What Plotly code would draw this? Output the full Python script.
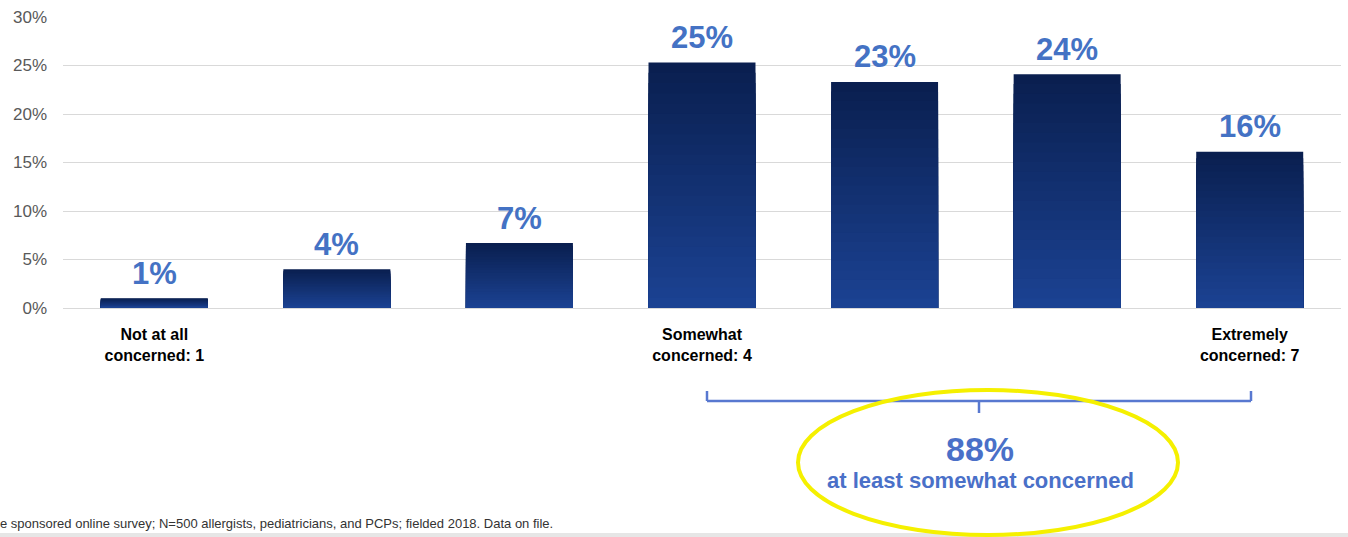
import plotly.graph_objects as go

# ---- data ----
scale_points = [1, 2, 3, 4, 5, 6, 7]
values = [1.0, 4.0, 6.7, 25.3, 23.3, 24.1, 16.1]
value_labels = ["1%", "4%", "7%", "25%", "23%", "24%", "16%"]
tick_labels = ["Not at all<br>concerned: 1", "", "", "Somewhat<br>concerned: 4", "", "", "Extremely<br>concerned: 7"]
y_ticks = [0, 5, 10, 15, 20, 25, 30]
summary_value = "88%"
summary_text = "at least somewhat concerned"
footnote = "e sponsored online survey; N=500 allergists, pediatricians, and PCPs; fielded 2018. Data on file."

# ---- layout constants (pixels) ----
W, H = 1348, 537
ML, MR, MT, MB = 63, 7, 17, 229
PW, PH = W - ML - MR, H - MT - MB
FONT = "Arial, Liberation Sans, sans-serif"
LABEL_BLUE = "#4472C4"
BRACKET_BLUE = "#5878D0"

def px(x):
    return (x - ML) / PW

def py(y):
    return (H - MB - y) / PH

fig = go.Figure()

# gradient bars: dark top -> lighter bottom, rendered as overlaid layers
dark = (10, 31, 80)
light = (27, 66, 146)
N = 24
for k in range(N):
    t = k / (N - 1)
    c = tuple(round(dark[i] + (light[i] - dark[i]) * t) for i in range(3))
    frac = 1 - k / N
    fig.add_trace(go.Bar(
        x=scale_points,
        y=[v * frac for v in values],
        width=0.586,
        marker=dict(color="rgb(%d,%d,%d)" % c, line=dict(width=0)),
        hoverinfo="skip",
        showlegend=False,
    ))

# value labels
for xv, v, lab in zip(scale_points, values, value_labels):
    fig.add_annotation(x=xv, y=v, text="<b>%s</b>" % lab, showarrow=False,
                       xref="x", yref="y", xanchor="center", yanchor="middle", yshift=25,
                       font=dict(family=FONT, size=31, color=LABEL_BLUE))

# bracket
shapes = []
bx0, bx1, bxm = 707, 1251, 979
by, btop, bbot = 401, 391, 413
line = dict(color=BRACKET_BLUE, width=2.5)
shapes.append(dict(type="line", xref="paper", yref="paper", x0=px(bx0), x1=px(bx1), y0=py(by), y1=py(by), line=line))
shapes.append(dict(type="line", xref="paper", yref="paper", x0=px(bx0), x1=px(bx0), y0=py(btop), y1=py(by), line=line))
shapes.append(dict(type="line", xref="paper", yref="paper", x0=px(bx1), x1=px(bx1), y0=py(btop), y1=py(by), line=line))
shapes.append(dict(type="line", xref="paper", yref="paper", x0=px(bxm), x1=px(bxm), y0=py(by), y1=py(bbot), line=line))
# yellow ellipse
shapes.append(dict(type="circle", xref="paper", yref="paper", x0=px(798), x1=px(1178), y0=py(390), y1=py(535),
                   line=dict(color="#F5F000", width=4)))
# bottom gray strip
shapes.append(dict(type="rect", xref="paper", yref="paper", x0=px(0), x1=px(W), y0=py(533), y1=py(H),
                   line=dict(width=0), fillcolor="#E6E6E6", layer="below"))

fig.add_annotation(xref="paper", yref="paper", x=px(980), y=py(449), xanchor="center", yanchor="middle",
                   text="<b>%s</b>" % summary_value,
                   showarrow=False, font=dict(family=FONT, size=34, color="#4A70C8"))
fig.add_annotation(xref="paper", yref="paper", x=px(980), y=py(480), xanchor="center", yanchor="middle",
                   text="<b>%s</b>" % summary_text,
                   showarrow=False, font=dict(family=FONT, size=22, color="#4A70C8"))
fig.add_annotation(xref="paper", yref="paper", x=px(-2), y=py(523), xanchor="left", yanchor="middle",
                   text=footnote,
                   showarrow=False, font=dict(family=FONT, size=13, color="#333333"))

fig.update_layout(
    width=W, height=H,
    margin=dict(l=ML, r=MR, t=MT, b=MB, autoexpand=False),
    paper_bgcolor="white", plot_bgcolor="white",
    barmode="overlay",
    shapes=shapes,
    font=dict(family=FONT),
)
fig.update_xaxes(range=[0.5, 7.5], tickvals=scale_points, ticktext=["<b>%s</b>" % t if t else "" for t in tick_labels],
                 tickfont=dict(family=FONT, size=16, color="#000000"), showgrid=False, showline=False,
                 zeroline=False, ticks="", ticklabelstandoff=15, automargin=False)
fig.update_yaxes(range=[0, 30], tickvals=y_ticks, ticktext=["%d%%" % t for t in y_ticks],
                 tickfont=dict(family=FONT, size=17, color="#595959"), gridcolor="#D9D9D9", gridwidth=1,
                 zeroline=True, zerolinecolor="#D9D9D9", zerolinewidth=1, showline=False,
                 ticklabelstandoff=15, automargin=False)

fig.write_html("out.html", config={"displayModeBar": False},
               post_script="document.body.style.margin='0';document.body.style.overflow='hidden';")
